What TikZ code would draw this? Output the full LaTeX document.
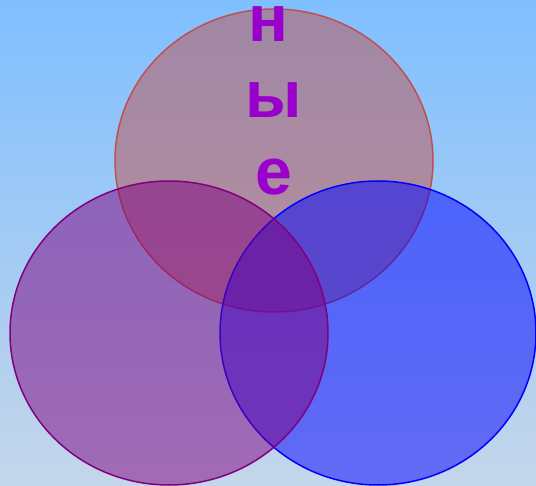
\documentclass[tikz,border=0pt]{standalone}
\usepackage{fontspec}
\setmainfont{Liberation Sans}
\usepackage{xcolor}
\usepackage{tikz}
\definecolor{skytop}{RGB}{128,191,255}
\definecolor{skybottom}{RGB}{196,214,234}
\definecolor{setred}{RGB}{192,80,77}
\definecolor{setpurple}{RGB}{128,0,128}
\definecolor{setblue}{RGB}{0,0,255}
\definecolor{letterviolet}{RGB}{153,0,204}

\begin{document}
\begin{tikzpicture}[
    x=1pt, y=-1pt,
    setshape/.style={line width=1.5pt, fill opacity=0.5, draw opacity=1},
    letter/.style={anchor=base, inner sep=0pt, text=letterviolet, font=\fontsize{66}{77}\selectfont\bfseries}
]

% background
\shade[top color=skytop, bottom color=skybottom] (0,0) rectangle (536,486);
\useasboundingbox (0,0) rectangle (536,486);

\draw[setshape, draw=setred, fill=setred] (274,160.5) ellipse [x radius=159, y radius=151.5];
\draw[setshape, draw=setblue, fill=setblue] (378,333) ellipse [x radius=158, y radius=152];
\draw[setshape, draw=setpurple, fill=setpurple] (169,333) ellipse [x radius=159, y radius=152];

\node[letter] (n) at (268,42) {н};
\node[letter] (y) at (274,118) {ы};
\node[letter] (e) at (274,195) {е};

\end{tikzpicture}
\end{document}
